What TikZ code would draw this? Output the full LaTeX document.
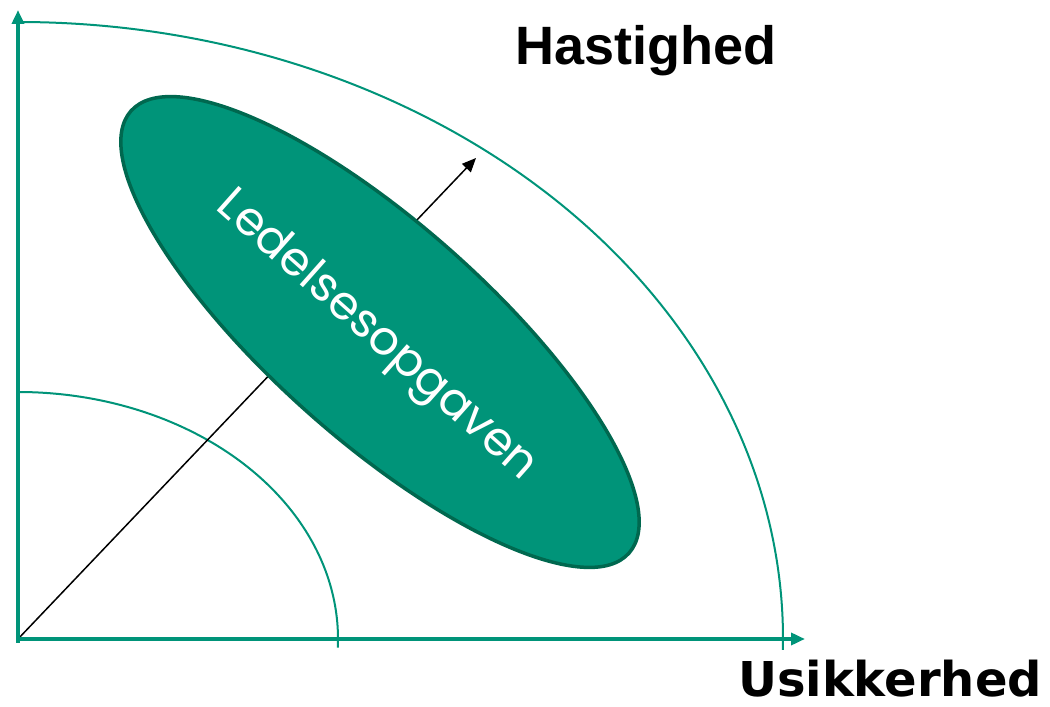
\documentclass[tikz,border=0pt]{standalone}
\usepackage{fontspec}
\setmainfont{Liberation Sans}
\newfontfamily\labfont{Poppins}
\newfontfamily\boldwide{DejaVu Sans}
\usetikzlibrary{arrows.meta,shapes.geometric}
\definecolor{teal1}{HTML}{009479}
\definecolor{tealdark}{HTML}{00684F}
\tikzset{
  axis/.style={draw=teal1, line width=3.5pt, -{Triangle[length=14pt,width=12pt]}},
  arcline/.style={draw=teal1, line width=2pt},
  title/.style={text=black, inner sep=0pt, anchor=base},
}
\begin{document}
\begin{tikzpicture}[x=1pt,y=1pt]
\useasboundingbox (0,0) rectangle (1050,707);
\coordinate (O) at (18,68);
\coordinate (xend) at (805,68);
\coordinate (yend) at (18,697);
\coordinate (atip) at (476,549);
% arcs
\draw[arcline] (18,685) arc[start angle=90, end angle=-1, x radius=765, y radius=617];
\draw[arcline] (18,315) arc[start angle=90, end angle=-2, x radius=320, y radius=247];
% diagonal arrow
\draw[line width=1.5pt, -{Triangle[length=14pt,width=12pt]}] (O) -- (atip);
% ellipse
\node (ell) [ellipse, draw=tealdark, fill=teal1, line width=3.5pt, inner sep=0pt, minimum width=666pt, minimum height=216pt, rotate=-41.6] at (380,375) {};
\node (lab) [rotate=-41.6, text=white, inner sep=0pt, font=\labfont\fontsize{47}{47}\selectfont] at (376,370) {Ledelsesopgaven};
% axes
\draw[axis] (18,64) -- (yend);
\draw[axis] (16,68) -- (xend);
% titles
\node (hast) [title, font=\fontsize{54}{54}\selectfont\bfseries] at (646,642) {Hastighed};
\node (usik) [title, font=\boldwide\fontsize{48}{48}\selectfont\bfseries] at (890,10) {Usikkerhed};
\end{tikzpicture}
\end{document}
